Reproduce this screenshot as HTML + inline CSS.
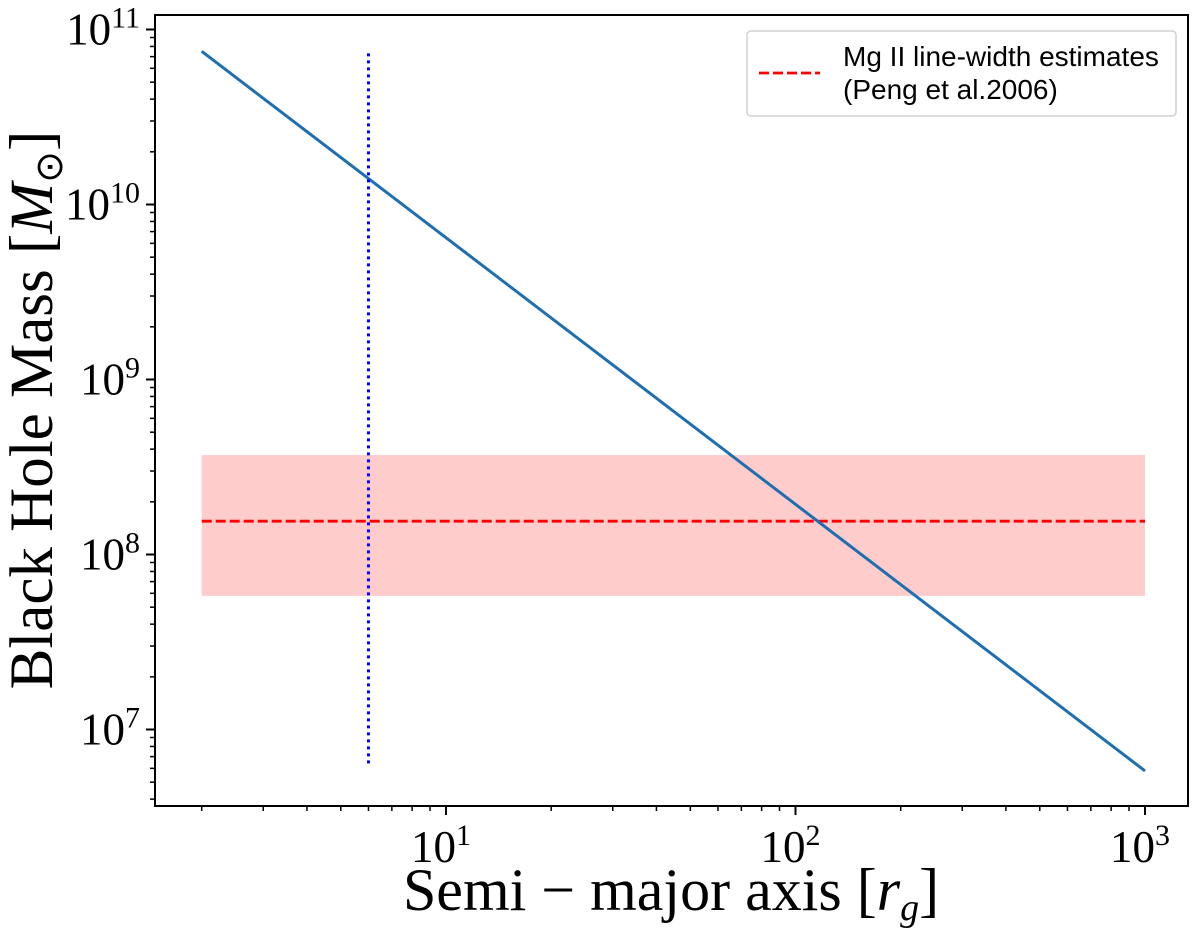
<!DOCTYPE html>
<html><head><meta charset="utf-8"><style>
html,body{margin:0;padding:0;background:#fff;}
svg{display:block;}
</style></head><body>
<svg id="chart" width="1200" height="930" xmlns="http://www.w3.org/2000/svg">
<g id="plot"></g>
</svg>
<script>
// data
const curveA = [2, 1000];
const curveM = [7.5e10, 5.8e6];
const vlineA = [6];
const vlineM = [7.3e10, 6.2e6];
const bandA = [2, 1000];
const bandLow = [5.8e7];
const bandHigh = [3.7e8];
const mgMass = [1.55e8];
const xTickVals = [10, 100, 1000];
const xTickLabels = ["1", "2", "3"];
const yTickVals = [1e7, 1e8, 1e9, 1e10, 1e11];
const yTickLabels = ["7", "8", "9", "10", "11"];

const NS = "http://www.w3.org/2000/svg";
const L = 155, R = 1188, T = 15, B = 806;
function xs(v){ return 446 + (Math.log10(v) - 1) * 349.5; }
function ys(v){ return 29.5 + (11 - Math.log10(v)) * 175; }
const g = document.getElementById('plot');
function mk(tag, attrs, parent){
  const e = document.createElementNS(NS, tag);
  for (const k in attrs) e.setAttribute(k, attrs[k]);
  (parent || g).appendChild(e);
  return e;
}

let e = mk('rect', {x: xs(bandA[0]), y: ys(bandHigh[0]), width: xs(bandA[1]) - xs(bandA[0]), height: ys(bandLow[0]) - ys(bandHigh[0]), fill: '#ffcccc'});



e = mk('line', {x1: xs(bandA[0]), x2: xs(bandA[1]), y1: ys(mgMass[0]), y2: ys(mgMass[0]), stroke: '#ff0000', 'stroke-width': 2.8, 'stroke-dasharray': '10,4'});



e = mk('polyline', {points: curveA.map((a, i) => xs(a) + ',' + ys(curveM[i])).join(' '), fill: 'none', stroke: '#1f6fb0', 'stroke-width': 3});



e = mk('line', {x1: xs(vlineA[0]), x2: xs(vlineA[0]), y1: ys(vlineM[0]), y2: ys(vlineM[1]), stroke: '#0000ff', 'stroke-width': 3, 'stroke-dasharray': '3,4'});



e = mk('rect', {x: L, y: T, width: R - L, height: B - T, fill: 'none', stroke: '#000', 'stroke-width': 2});



for (let d = 0; d <= 3; d++) {
  for (let m = 1; m <= 9; m++) {
    const v = m * Math.pow(10, d);
    if (v < 1.5 || v > 1000) continue;
    const major = (m === 1);
    e = mk('line', {x1: xs(v), x2: xs(v), y1: B, y2: B + (major ? 9 : 5), stroke: '#000', 'stroke-width': major ? 2 : 1.5});
    
    
  }
}
xTickVals.forEach((v, i) => {
  const t = mk('text', {x: xs(v) - 5, y: B + 56, 'text-anchor': 'middle', 'font-family': 'Liberation Serif, serif', 'font-size': 45});
  t.textContent = '10';
  const s = mk('tspan', {dy: -17, 'font-size': 30}, t);
  s.textContent = xTickLabels[i];
  
  
});

for (let d = 6; d <= 11; d++) {
  for (let m = 1; m <= 9; m++) {
    const v = m * Math.pow(10, d);
    const y = ys(v);
    if (y < T || y > B) continue;
    const major = (m === 1);
    e = mk('line', {x1: L, x2: L - (major ? 9 : 5), y1: y, y2: y, stroke: '#000', 'stroke-width': major ? 2 : 1.5});
    
    
  }
}
yTickVals.forEach((v, i) => {
  const t = mk('text', {x: 140, y: ys(v) + 15, 'text-anchor': 'end', 'font-family': 'Liberation Serif, serif', 'font-size': 45});
  t.textContent = '10';
  const s = mk('tspan', {dy: -17, 'font-size': 30}, t);
  s.textContent = yTickLabels[i];
  
  
});

let t = mk('text', {x: 671, y: 910, 'text-anchor': 'middle', 'font-family': 'Liberation Serif, serif', 'font-size': 60});
t.innerHTML = 'Semi − major axis [<tspan font-style="italic">r</tspan><tspan font-style="italic" font-size="38" dy="10">g</tspan><tspan dy="-10">]</tspan>';



t = mk('text', {x: 0, y: 0, 'text-anchor': 'middle', 'font-family': 'Liberation Serif, serif', 'font-size': 61, transform: 'translate(52,410) rotate(-90)'});
t.innerHTML = 'Black Hole Mass [<tspan font-style="italic">M</tspan><tspan font-size="38" dy="10">⊙</tspan><tspan dy="-10">]</tspan>';



const lg = mk('g', {});


mk('rect', {x: 747, y: 31, width: 429, height: 85, rx: 4, fill: '#fff', stroke: '#d0d0d0', 'stroke-width': 1.5}, lg);
e = mk('line', {x1: 759, x2: 820, y1: 73, y2: 73, stroke: '#ff0000', 'stroke-width': 2.8, 'stroke-dasharray': '10,4'}, lg);


t = mk('text', {x: 843, y: 66, 'font-family': 'Liberation Sans, sans-serif', 'font-size': 28}, lg);
t.textContent = 'Mg II line-width estimates';


t = mk('text', {x: 843, y: 99, 'font-family': 'Liberation Sans, sans-serif', 'font-size': 28}, lg);
t.textContent = '(Peng et al.2006)';


</script>
</body></html>
